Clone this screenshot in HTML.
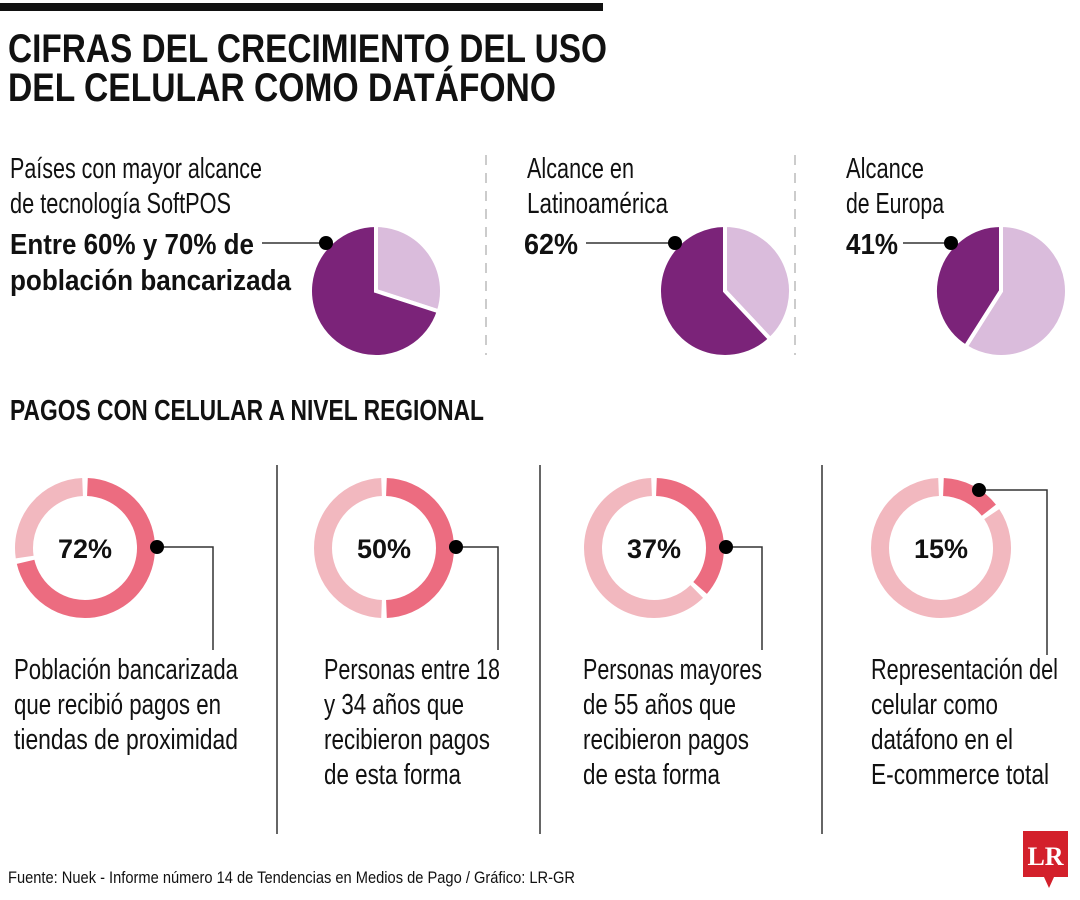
<!DOCTYPE html>
<html><head><meta charset="utf-8">
<style>
html,body{margin:0;padding:0;background:#fff;}
svg{display:block;}
text{font-family:"Liberation Sans Narrow","Liberation Sans",sans-serif;fill:#111;}
.t{font-weight:bold;font-size:40px;}
.l{font-size:29px;}
.b{font-weight:bold;font-size:29px;}
.p{font-weight:bold;font-size:27px;}
</style></head>
<body>
<svg id="c" width="1080" height="900" viewBox="0 0 1080 900" xmlns="http://www.w3.org/2000/svg">
<rect x="0" y="3" width="603" height="8" fill="#111"/>
<g>
<text class="t" x="8" y="62" textLength="599" lengthAdjust="spacingAndGlyphs">CIFRAS DEL CRECIMIENTO DEL USO</text>
<text class="t" x="8" y="101" textLength="548" lengthAdjust="spacingAndGlyphs">DEL CELULAR COMO DATÁFONO</text>
</g>
<g>
<text class="l" x="10" y="178" textLength="252" lengthAdjust="spacingAndGlyphs">Países con mayor alcance</text>
<text class="l" x="10" y="213" textLength="221" lengthAdjust="spacingAndGlyphs">de tecnología SoftPOS</text>
<text class="b" x="10" y="254" textLength="244" lengthAdjust="spacingAndGlyphs">Entre 60% y 70% de</text>
<text class="b" x="10" y="290" textLength="281" lengthAdjust="spacingAndGlyphs">población bancarizada</text>
<text class="l" x="527" y="178" textLength="107" lengthAdjust="spacingAndGlyphs">Alcance en</text>
<text class="l" x="527" y="213" textLength="141" lengthAdjust="spacingAndGlyphs">Latinoamérica</text>
<text class="b" x="524" y="254" textLength="54" lengthAdjust="spacingAndGlyphs">62%</text>
<text class="l" x="846" y="178" textLength="78" lengthAdjust="spacingAndGlyphs">Alcance</text>
<text class="l" x="846" y="213" textLength="98" lengthAdjust="spacingAndGlyphs">de Europa</text>
<text class="b" x="846" y="254" textLength="52" lengthAdjust="spacingAndGlyphs">41%</text>
</g>
<g stroke="#bbb" stroke-width="1.5" stroke-dasharray="10,8">
<line x1="486" y1="155" x2="486" y2="355"/><line x1="795" y1="155" x2="795" y2="355"/>
</g>
<text class="b" x="10" y="420" textLength="474" lengthAdjust="spacingAndGlyphs">PAGOS CON CELULAR A NIVEL REGIONAL</text>
<g stroke="#333" stroke-width="1.5">
<line x1="277" y1="465" x2="277" y2="834"/><line x1="540" y1="465" x2="540" y2="834"/><line x1="822" y1="465" x2="822" y2="834"/>
</g>
<g id="pies"></g>
<g id="donuts"></g>
<g>
<text class="l" x="14" y="679" textLength="224" lengthAdjust="spacingAndGlyphs">Población bancarizada</text>
<text class="l" x="14" y="714" textLength="207" lengthAdjust="spacingAndGlyphs">que recibió pagos en</text>
<text class="l" x="14" y="749" textLength="224" lengthAdjust="spacingAndGlyphs">tiendas de proximidad</text>
<text class="l" x="324" y="679" textLength="176" lengthAdjust="spacingAndGlyphs">Personas entre 18</text>
<text class="l" x="324" y="714" textLength="140" lengthAdjust="spacingAndGlyphs">y 34 años que</text>
<text class="l" x="324" y="749" textLength="166" lengthAdjust="spacingAndGlyphs">recibieron pagos</text>
<text class="l" x="324" y="784" textLength="137" lengthAdjust="spacingAndGlyphs">de esta forma</text>
<text class="l" x="583" y="679" textLength="179" lengthAdjust="spacingAndGlyphs">Personas mayores</text>
<text class="l" x="583" y="714" textLength="153" lengthAdjust="spacingAndGlyphs">de 55 años que</text>
<text class="l" x="583" y="749" textLength="166" lengthAdjust="spacingAndGlyphs">recibieron pagos</text>
<text class="l" x="583" y="784" textLength="137" lengthAdjust="spacingAndGlyphs">de esta forma</text>
<text class="l" x="871" y="679" textLength="187" lengthAdjust="spacingAndGlyphs">Representación del</text>
<text class="l" x="871" y="714" textLength="127" lengthAdjust="spacingAndGlyphs">celular como</text>
<text class="l" x="871" y="749" textLength="142" lengthAdjust="spacingAndGlyphs">datáfono en el</text>
<text class="l" x="871" y="784" textLength="178" lengthAdjust="spacingAndGlyphs">E-commerce total</text>
</g>
<text x="8" y="883" font-size="17" textLength="567" lengthAdjust="spacingAndGlyphs">Fuente: Nuek - Informe número 14 de Tendencias en Medios de Pago / Gráfico: LR-GR</text>
<g>
<path d="M1023 831 H1068 V877 H1054 L1049 888 L1044 877 H1023 Z" fill="#d3202b"/>
<text x="1045.5" y="865" text-anchor="middle" font-family="Liberation Serif,serif" font-weight="bold" font-size="26" style="fill:#fff;font-family:'Liberation Serif',serif">LR</text>
</g>
</svg>
<script>
const pieLabels = ["Países con mayor alcance", "Latinoamérica", "Europa"];
const pieValues = [70, 62, 41];
const donutLabels = ["Población bancarizada", "Personas 18-34", "Personas mayores 55", "E-commerce"];
const donutValues = [72, 50, 37, 15];

const NS = "http://www.w3.org/2000/svg";
function mk(tag, attrs, parent){const e=document.createElementNS(NS,tag);for(const k in attrs)e.setAttribute(k,attrs[k]);parent.appendChild(e);return e;}
function angle(pct){return pct/100*2*Math.PI;}
function pt(cx,cy,r,a){return [cx+r*Math.sin(a), cy-r*Math.cos(a)];}
function sector(cx,cy,r,a0,a1){const p0=pt(cx,cy,r,a0),p1=pt(cx,cy,r,a1);const lg=(a1-a0)>Math.PI?1:0;
 return `M${cx},${cy} L${p0[0]},${p0[1]} A${r},${r} 0 ${lg} 1 ${p1[0]},${p1[1]} Z`;}
function arc(cx,cy,r,a0,a1){const p0=pt(cx,cy,r,a0),p1=pt(cx,cy,r,a1);const lg=(a1-a0)>Math.PI?1:0;
 return `M${p0[0]},${p0[1]} A${r},${r} 0 ${lg} 1 ${p1[0]},${p1[1]}`;}

// pies: dark share drawn counter-clockwise ending at top
const pieCx=[376,725,1001], pieCy=291, pieR=66, pieLineStart=[262,586,903];
const pg=document.getElementById('pies');
pieValues.forEach((v,i)=>{
 const g=mk('g',{},pg);
 
 
 const split=angle(100-v);
 const light=mk('path',{d:sector(pieCx[i],pieCy,pieR,0,split),fill:'#dabcdc',stroke:'#fff','stroke-width':4,'stroke-linejoin':'miter'},g);
 
 
 const dark=mk('path',{d:sector(pieCx[i],pieCy,pieR,split,2*Math.PI),fill:'#7b2379',stroke:'#fff','stroke-width':4},g);
 
 
 const dp=pt(pieCx[i],pieCy,pieR-8,angle(100-v)+(angle(v))*0.88);
 const ln=mk('line',{x1:pieLineStart[i],y1:243,x2:pieCx[i]-50,y2:243,stroke:'#333','stroke-width':1.5},g);
 
 
 const dot=mk('circle',{cx:pieCx[i]-50,cy:243,r:7,fill:'#000'},g);
 
 
});

// donuts
const dCx=[85,384,654,941], dCy=548, dR=61, dW=18;
const dg=document.getElementById('donuts');
const leadEndX=[213,498,762,1047];
donutValues.forEach((v,i)=>{
 const g=mk('g',{},dg);
 
 
 const gap=0.04;
 const a=angle(v);
 const r1=mk('path',{d:arc(dCx[i],dCy,dR,a+gap,2*Math.PI-gap),fill:'none',stroke:'#f2b8bf','stroke-width':dW},g);
 
 
 const r2=mk('path',{d:arc(dCx[i],dCy,dR,gap,a-gap),fill:'none',stroke:'#ec6c80','stroke-width':dW},g);
 
 
 const t=mk('text',{x:dCx[i],y:dCy+10,'text-anchor':'middle','class':'p'},g);
 t.textContent=v+'%';
 
 
 // dot at middle of value arc, or at right side if arc large
 let da = v>=37 ? Math.PI/2 : a/2;
 if(v<=50 && v>=37) da=Math.min(Math.PI/2, a-0.2);
 const dp=pt(dCx[i],dCy,dR+10,da);
 if(v<20){dp[0]=dCx[i]+38;dp[1]=dCy-58;}
 const dx=v>=37?dCx[i]+72:dp[0], dy=v>=37?dCy-1:dp[1];
 const pl=mk('polyline',{points:`${dx},${dy} ${leadEndX[i]},${dy} ${leadEndX[i]},${v<20?655:650}`,fill:'none',stroke:'#333','stroke-width':1.5},g);
 
 
 const dot=mk('circle',{cx:dx,cy:dy,r:7,fill:'#000'},g);
 
 
});
</script>
</body></html>
